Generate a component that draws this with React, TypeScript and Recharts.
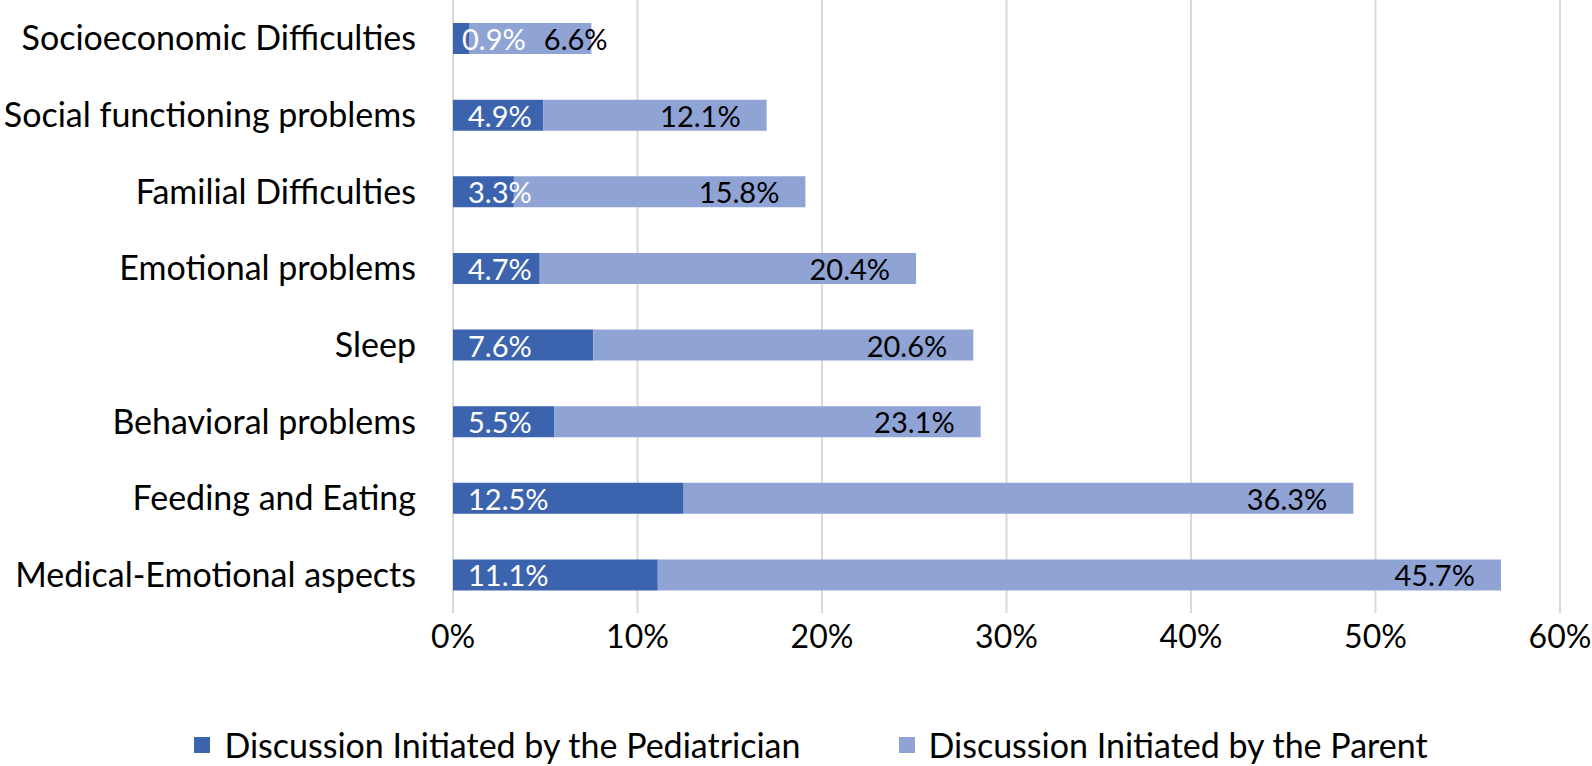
import { BarChart, Bar, XAxis, YAxis, CartesianGrid, Legend, LabelList } from 'recharts';

const categories = [
  'Socioeconomic Difficulties',
  'Social functioning problems',
  'Familial Difficulties',
  'Emotional problems',
  'Sleep',
  'Behavioral problems',
  'Feeding and Eating',
  'Medical-Emotional aspects',
];
const pediatrician = [0.9, 4.9, 3.3, 4.7, 7.6, 5.5, 12.5, 11.1];
const parent = [6.6, 12.1, 15.8, 20.4, 20.6, 23.1, 36.3, 45.7];
const xTicks = [0, 10, 20, 30, 40, 50, 60];

const DARK = '#3C64AE';
const LIGHT = '#8FA4D5';
const FONT = 'Lato, sans-serif';

const data = categories.map((name, i) => ({ name, ped: pediatrician[i], par: parent[i] }));

const PedLabel = (props: any) => {
  const { x, y, width, height, value } = props;
  // excel pulls the label in a bit on tiny segments
  const pad = width < 20 ? 9 : 15;
  return (
    <text x={x + pad} y={y + height / 2} fill="#fff" fontSize={29} fontFamily={FONT} textAnchor="start" dominantBaseline="central">
      {value.toFixed(1)}%
    </text>
  );
};

const ParLabel = (props: any) => {
  const { x, y, width, height, value } = props;
  // keep clear of the pediatrician label on very short bars
  const end = Math.max(x + width - 26, x + 138);
  return (
    <text x={end} y={y + height / 2} fill="#000" fontSize={29} fontFamily={FONT} textAnchor="end" dominantBaseline="central">
      {value.toFixed(1)}%
    </text>
  );
};

const LegendBox = () => (
  <div style={{ height: 93, display: 'flex', justifyContent: 'center', alignItems: 'flex-start', paddingTop: 52, boxSizing: 'border-box', fontFamily: FONT, fontSize: 34, lineHeight: '40px', color: '#000', paddingLeft: 62 }}>
    <div style={{ display: 'flex', alignItems: 'center', marginRight: 98 }}>
      <span style={{ width: 16, height: 16, background: DARK, display: 'inline-block', marginRight: 14 }} />
      <span>Discussion Initiated by the Pediatrician</span>
    </div>
    <div style={{ display: 'flex', alignItems: 'center' }}>
      <span style={{ width: 16, height: 16, background: LIGHT, display: 'inline-block', marginRight: 14 }} />
      <span>Discussion Initiated by the Parent</span>
    </div>
  </div>
);

export default function App() {
  return (
    <div style={{ position: 'absolute', left: 0, top: 0, background: '#fff' }}>
      <BarChart width={1592} height={766} data={data} layout="vertical" margin={{ top: 0, right: 32, left: 0, bottom: 0 }} barSize={31}>
        <CartesianGrid horizontal={false} vertical={true} stroke="#D9D9D9" strokeWidth={2} />
        <XAxis
          type="number"
          domain={[0, 60]}
          ticks={xTicks}
          tickFormatter={(v) => `${v}%`}
          axisLine={false}
          tickLine={false}
          tickMargin={6}
          height={60}
          tick={{ fill: '#000', fontSize: 32, fontFamily: FONT }}
        />
        <YAxis
          type="category"
          dataKey="name"
          width={453}
          axisLine={false}
          tickLine={false}
          tickMargin={31}
          tick={{ fill: '#000', fontSize: 34, fontFamily: FONT }}
        />
        <Legend verticalAlign="bottom" content={<LegendBox />} />
        <Bar dataKey="ped" stackId="a" fill={DARK} isAnimationActive={false}>
          <LabelList dataKey="ped" content={<PedLabel />} />
        </Bar>
        <Bar dataKey="par" stackId="a" fill={LIGHT} isAnimationActive={false}>
          <LabelList dataKey="par" content={<ParLabel />} />
        </Bar>
      </BarChart>
    </div>
  );
}
